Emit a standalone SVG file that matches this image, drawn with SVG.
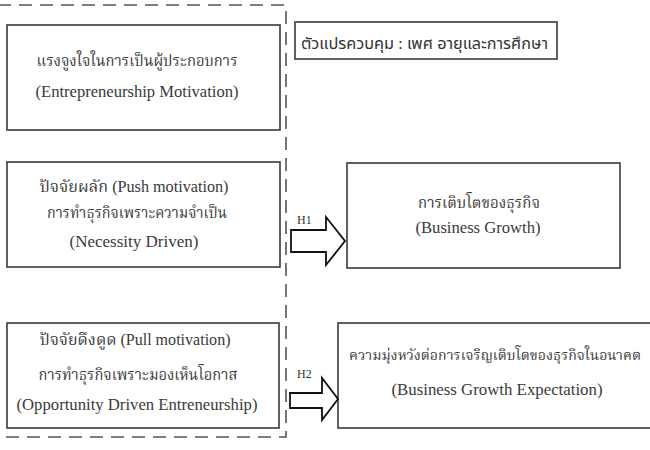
<svg xmlns="http://www.w3.org/2000/svg" width="650" height="450" viewBox="0 0 650 450">
<style>
.box{fill:#fff;stroke:#3a3a3a;stroke-width:1.6}
.t{font-family:"Liberation Serif","Noto Serif Thai","Noto Sans Thai",serif;font-size:16px;fill:#3a3a3a;text-anchor:middle}
.ts{font-family:"Noto Sans Thai","Liberation Sans",sans-serif;font-size:15px;fill:#333}
.h{font-family:"Liberation Serif",serif;font-size:12px;fill:#333}
.arr{fill:#fff;stroke:#111;stroke-width:1.8;stroke-linejoin:miter}
.dash{fill:none;stroke:#555;stroke-width:1.6;stroke-dasharray:13 8}
</style>
<rect width="650" height="450" fill="#fff"/>
<path class="dash" d="M-2 5 H286 V437 H-2"/>
<g id="motivation">
<rect class="box" x="7" y="25" width="273" height="105"/>
<text class="t" x="137" y="66" textLength="201" lengthAdjust="spacingAndGlyphs">แรงจูงใจในการเป็นผู้ประกอบการ</text>
<text class="t" x="137" y="97" textLength="203" lengthAdjust="spacingAndGlyphs">(Entrepreneurship Motivation)</text>
</g>
<g id="control">
<rect class="box" x="295" y="22" width="262" height="37"/>
<text class="ts" x="301" y="49" textLength="247" lengthAdjust="spacingAndGlyphs">ตัวแปรควบคุม : เพศ อายุและการศึกษา</text>
</g>
<g id="push">
<rect class="box" x="7" y="162" width="273" height="105"/>
<text class="t" x="134" y="192" textLength="189" lengthAdjust="spacingAndGlyphs">ปัจจัยผลัก (Push motivation)</text>
<text class="t" x="137" y="218" textLength="180" lengthAdjust="spacingAndGlyphs">การทำธุรกิจเพราะความจำเป็น</text>
<text class="t" x="134" y="247" textLength="129" lengthAdjust="spacingAndGlyphs">(Necessity Driven)</text>
</g>
<g id="growth">
<rect class="box" x="347" y="163" width="273" height="105"/>
<text class="t" x="479" y="208" textLength="122" lengthAdjust="spacingAndGlyphs">การเติบโตของธุรกิจ</text>
<text class="t" x="478" y="233" textLength="125" lengthAdjust="spacingAndGlyphs">(Business Growth)</text>
</g>
<g id="pull">
<rect class="box" x="7" y="323" width="272" height="105"/>
<text class="t" x="135" y="345" textLength="191" lengthAdjust="spacingAndGlyphs">ปัจจัยดึงดูด (Pull motivation)</text>
<text class="t" x="138" y="380" textLength="199" lengthAdjust="spacingAndGlyphs">การทำธุรกิจเพราะมองเห็นโอกาส</text>
<text class="t" x="137" y="410" textLength="241" lengthAdjust="spacingAndGlyphs">(Opportunity Driven Entreneurship)</text>
</g>
<g id="expectation">
<rect class="box" x="338" y="323" width="320" height="105"/>
<text class="t" x="495" y="360" style="font-size:14px" textLength="292" lengthAdjust="spacingAndGlyphs">ความมุ่งหวังต่อการเจริญเติบโตของธุรกิจในอนาคต</text>
<text class="t" x="497" y="395" textLength="211" lengthAdjust="spacingAndGlyphs">(Business Growth Expectation)</text>
</g>
<g id="connectors">
<path class="arr" d="M291 230 H326 V217 L345 241 L326 265 V252 H291 Z"/>
<text class="h" x="297" y="224">H1</text>
<path class="arr" d="M290 393 H322 V378 L338 399 L322 420 V408 H290 Z"/>
<text class="h" x="297" y="378">H2</text>
</g>
</svg>
